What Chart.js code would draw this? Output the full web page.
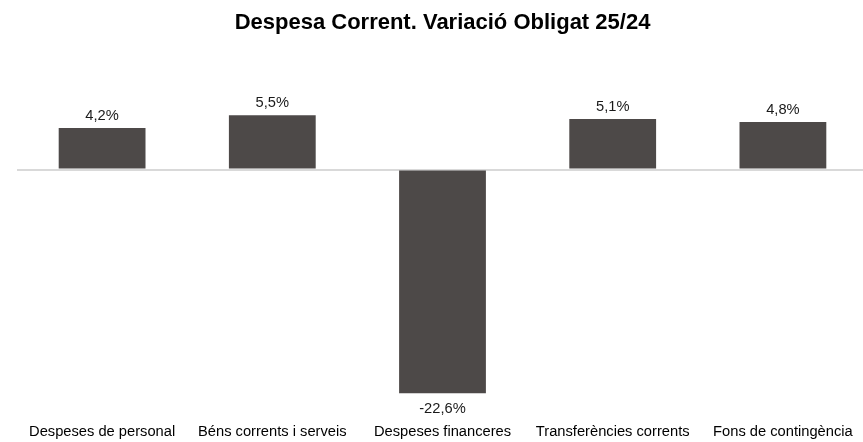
<!DOCTYPE html>
<html>
<head>
<meta charset="utf-8">
<script src="https://cdn.jsdelivr.net/npm/chart.js@4/dist/chart.umd.min.js"></script>
<style>
  html, body { margin: 0; padding: 0; background: #fff; overflow: hidden; }
  #wrap { width: 884px; height: 442px; position: relative; }
</style>
</head>
<body>
<div id="wrap"><canvas id="chart"></canvas></div>
<script>
var categories = ['Despeses de personal', 'Béns corrents i serveis', 'Despeses financeres', 'Transferències corrents', 'Fons de contingència']
var variacio = [4.2, 5.5, -22.6, 5.1, 4.8]

var FONT = "'Liberation Sans', Arial, sans-serif"

function fmt (v) {
  return v.toFixed(1).replace('.', ',') + '%'
}

// etiquetes de valor damunt / sota de cada barra
var valueLabels = {
  id: 'valueLabels',
  afterDatasetsDraw: function (chart) {
    var ctx = chart.ctx
    var meta = chart.getDatasetMeta(0)
    ctx.save()
    ctx.font = '14.7px ' + FONT
    ctx.fillStyle = '#1a1a1a'
    ctx.textAlign = 'center'
    ctx.textBaseline = 'alphabetic'
    meta.data.forEach(function (bar, i) {
      var v = variacio[i]
      var y = v >= 0 ? bar.y - 8 : bar.y + 20
      ctx.fillText(fmt(v), bar.x, y)
    })
    ctx.restore()
  }
}

new Chart(document.getElementById('chart'), {
  type: 'bar',
  data: {
    labels: categories,
    datasets: [{
      data: variacio,
      backgroundColor: '#4d4948',
      barPercentage: 0.51,
      categoryPercentage: 1
    }]
  },
  options: {
    responsive: true,
    maintainAspectRatio: false,
    animation: false,
    layout: { padding: { left: 17, right: 16, top: 0, bottom: 0 } },
    plugins: {
      legend: { display: false },
      tooltip: { enabled: false },
      title: {
        display: true,
        text: 'Despesa Corrent. Variació Obligat 25/24',
        color: '#000',
        font: { family: FONT, size: 22, weight: 'bold' },
        padding: { top: 10, bottom: 54 }
      }
    },
    scales: {
      x: {
        grid: { display: false, drawTicks: false },
        border: { display: false },
        afterFit: function (s) { s.height = 35 },
        ticks: {
          color: '#000',
          font: { family: FONT, size: 14.7 },
          padding: 16,
          maxRotation: 0,
          autoSkip: false
        }
      },
      y: {
        min: -24,
        max: 8,
        ticks: { display: false, stepSize: 4 },
        border: { display: false },
        grid: {
          drawTicks: false,
          lineWidth: 2,
          color: function (c) { return c.tick && c.tick.value === 0 ? '#d9d9d9' : 'rgba(0,0,0,0)' }
        }
      }
    }
  },
  plugins: [valueLabels]
})
</script>
</body>
</html>
